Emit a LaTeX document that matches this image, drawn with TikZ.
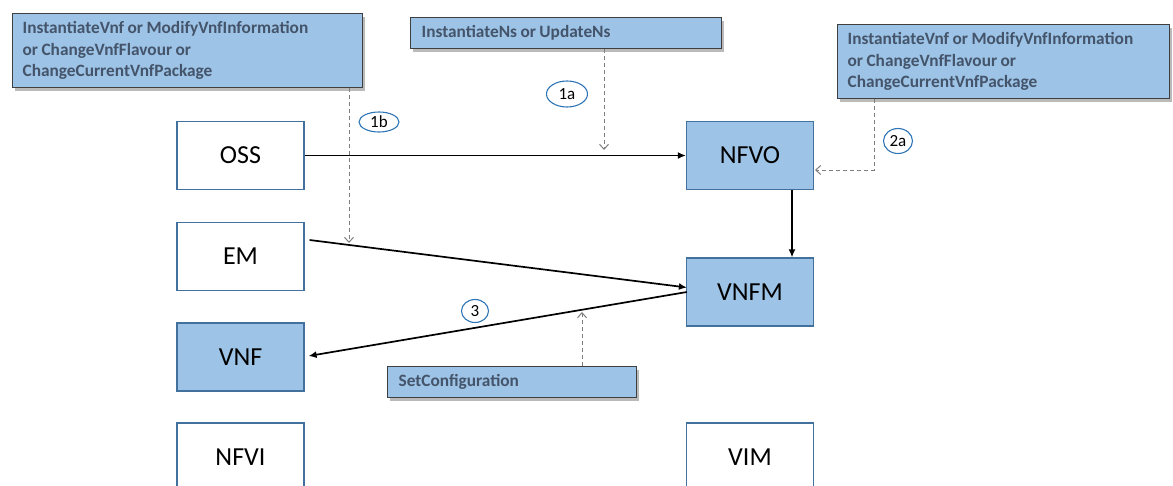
\documentclass[tikz,border=0pt]{standalone}
\usepackage{fontspec}
\setmainfont{Carlito}
\usetikzlibrary{arrows.meta,calc,shadows,shapes.geometric}
\definecolor{boxblue}{HTML}{9DC3E6}
\definecolor{edgeblue}{HTML}{41719C}
\definecolor{labeltext}{HTML}{44546A}
\definecolor{labeledge}{HTML}{3F3F3F}
\definecolor{dashgray}{HTML}{7F7F7F}
\definecolor{ringblue}{HTML}{2E75B6}
\newcommand\tightspaces{\spaceskip=0.2em plus 0.1em minus 0.05em\relax}
\tikzset{
  entity/.style={draw=edgeblue, line width=1.2pt, minimum width=127pt, minimum height=68pt,
    inner sep=0pt, font=\fontsize{26}{30}\selectfont},
  plainentity/.style={entity, fill=white},
  blueentity/.style={entity, fill=boxblue},
  opbox/.style={draw=labeledge, line width=1.3pt, fill=boxblue, anchor=north west,
    inner xsep=10pt, inner ysep=0pt, align=left, text=labeltext,
    font=\bfseries\fontsize{17.3}{21.5}\selectfont,
    execute at begin node=\tightspaces,
    drop shadow={shadow xshift=2.5pt, shadow yshift=-3pt, opacity=0.45, fill=black!60}},
  stepmark/.style={draw=ringblue, line width=1.1pt, ellipse, inner sep=0pt,
    font=\fontsize{17}{19}\selectfont},
  msg/.style={line width=1.7pt, -{Latex[length=8pt,width=7pt]}},
  invoke/.style={draw=dashgray, line width=1pt, dash pattern=on 4pt off 3pt,
    -{Straight Barb[length=5pt,width=9pt]}},
}
\begin{document}
\begin{tikzpicture}[x=1pt,y=-1pt]
\useasboundingbox (0,0) rectangle (1173,485);
\clip (0,0) rectangle (1173,485);

% functional blocks
\node[plainentity] (oss)  at (240.5,155.5) {OSS};
\node[blueentity]  (nfvo) at (750,155.5)   {NFVO};
\node[plainentity] (em)   at (240.5,256.5) {EM};
\node[blueentity]  (vnfm) at (750,292)     {VNFM};
\node[blueentity]  (vnf)  at (240.5,357)   {VNF};
\node[plainentity] (nfvi) at (240.5,457)   {NFVI};
\node[plainentity] (vim)  at (750,457)     {VIM};

% operation boxes
\node[opbox, minimum width=350pt, minimum height=74pt, text width=330pt] (opA) at (12,13)
  {InstantiateVnf or ModifyVnfInformation\\or ChangeVnfFlavour or\\ChangeCurrentVnfPackage};
\node[opbox, minimum width=311pt, minimum height=31pt, text width=289pt, inner xsep=11pt] (opNs) at (410,17)
  {InstantiateNs or UpdateNs};
\node[opbox, minimum width=332pt, minimum height=74pt, text width=312pt] (opB) at (837,24)
  {InstantiateVnf or ModifyVnfInformation\\or ChangeVnfFlavour or\\ChangeCurrentVnfPackage};
\node[opbox, minimum width=249pt, minimum height=31pt, text width=227pt, inner xsep=11pt] (opSet) at (387,366)
  {SetConfiguration};

% step markers
\node[stepmark, minimum width=41pt, minimum height=26pt] (s1a) at (567,94)  {1a};
\node[stepmark, minimum width=40pt, minimum height=20pt] (s1b) at (379,122) {1b};
\node[stepmark, minimum width=29pt, minimum height=25pt] (s2a) at (898,141) {2a};
\node[stepmark, minimum width=27pt, minimum height=23pt] (s3)  at (475,311) {3};

% message flows
\draw[msg] (oss.east) -- (nfvo.west);
\draw[msg] ([xshift=42pt]nfvo.south) -- ([xshift=42pt]nfvo.south |- vnfm.north);
\draw[msg] ($(em.east)+(5,-16.5)$) -- ($(vnfm.west)+(1,-4.5)$);
\draw[msg] ($(vnfm.west)+(1,0)$) -- ($(vnf.east)+(4,-1)$);

% operation invocations
\coordinate (t1a) at (604,150);
\coordinate (t1b) at (349,243);
\coordinate (t2a) at (815,170);
\coordinate (tset) at (582,312);
\draw[invoke] (opNs.south -| t1a) -- (t1a);
\draw[invoke] (opA.south -| t1b) -- (t1b);
\draw[invoke] (opB.south -| 874,0) |- (t2a);
\draw[invoke] (opSet.north -| tset) -- (tset);
\end{tikzpicture}
\end{document}
